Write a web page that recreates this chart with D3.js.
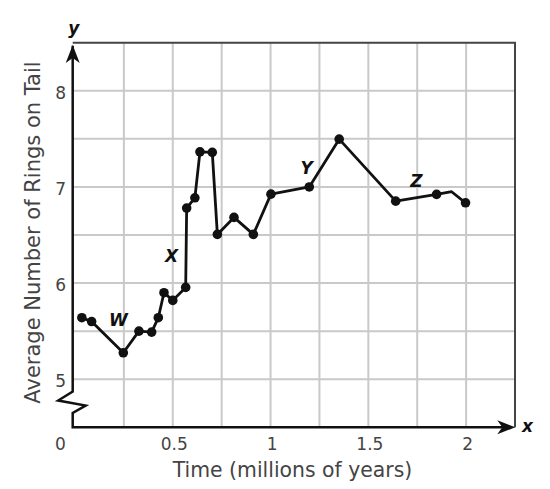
<!DOCTYPE html>
<html>
<head>
<meta charset="utf-8">
<script src="https://cdn.jsdelivr.net/npm/d3@7"></script>
<style>
  body { margin: 0; background: #fff; }
  text { font-family: "DejaVu Sans", Verdana, sans-serif; }
</style>
</head>
<body>
<svg class="chart"></svg>
<script>
// time in millions of years, average number of rings on tail
var timeMyr = [0.035, 0.085, 0.247, 0.327, 0.392, 0.426, 0.455, 0.50, 0.566, 0.571, 0.613, 0.639,
               0.702, 0.728, 0.813, 0.912, 1.002, 1.198, 1.351, 1.64, 1.849, 1.926, 1.997];
var rings = [5.64, 5.60, 5.275, 5.50, 5.49, 5.64, 5.90, 5.82, 5.955, 6.78, 6.887, 7.365,
             7.36, 6.506, 6.683, 6.506, 6.925, 7.0, 7.497, 6.852, 6.922, 6.95, 6.835];
// 1 = the point has a dot, 0 = bend in the line only
var hasDot = [1, 1, 1, 1, 1, 1, 1, 1, 1, 1, 1, 1, 1, 1, 1, 1, 1, 1, 1, 1, 1, 0, 1];

var xTicks = [0, 0.5, 1, 1.5, 2];
var yTicks = [5, 6, 7, 8];

var markNames = ["W", "X", "Y", "Z"];
var markTime = [0.222, 0.494, 1.184, 1.746];
var markRings = [5.553, 6.218, 7.133, 7.001];

function show() {
    'use strict';

    var width = 550, height = 489;

    var svg = d3.select(".chart")
        .attr("width", width)
        .attr("height", height);

    var x = d3.scaleLinear().domain([0, 2.25]).range([75, 515]);
    var y = d3.scaleLinear().domain([4.5, 8.5]).range([427.3, 42.7]);

    var axisX = x(0) - 2.3;
    var ink = "#111";

    // grid
    var grid = svg.append("g").attr("stroke", "#c9c9c9").attr("stroke-width", 2);
    grid.selectAll("line.v").data(d3.range(0.25, 2.01, 0.25)).enter().append("line")
        .attr("class", "v")
        .attr("x1", function(d) { return x(d); })
        .attr("x2", function(d) { return x(d); })
        .attr("y1", y(4.5)).attr("y2", y(8.5));
    grid.selectAll("line.h").data(d3.range(5, 8.01, 0.5)).enter().append("line")
        .attr("class", "h")
        .attr("y1", function(d) { return y(d); })
        .attr("y2", function(d) { return y(d); })
        .attr("x1", axisX).attr("x2", x(2.25));

    // top and right border
    svg.append("path")
        .attr("d", "M" + axisX + "," + y(8.5) + "H" + x(2.25) + "V" + y(4.5))
        .attr("fill", "none")
        .attr("stroke", "#444")
        .attr("stroke-width", 2);

    // tick labels
    var fmt = function(d) { return String(d); };
    var xAxis = svg.append("g")
        .attr("transform", "translate(0," + y(4.5) + ")")
        .call(d3.axisBottom(x).tickValues(xTicks).tickSize(0).tickPadding(11).tickFormat(fmt));
    xAxis.select(".domain").remove();
    xAxis.selectAll("text")
        .attr("font-size", 17)
        .attr("fill", "#444")
        .attr("font-family", "DejaVu Sans, Verdana, sans-serif")
        .attr("x", function(d) { return d === 0 ? -15 : 1; });

    var yAxis = svg.append("g")
        .attr("transform", "translate(" + x(0) + ",0)")
        .call(d3.axisLeft(y).tickValues(yTicks).tickSize(0).tickPadding(9).tickFormat(fmt));
    yAxis.select(".domain").remove();
    yAxis.selectAll("text")
        .attr("font-size", 17)
        .attr("fill", "#444")
        .attr("font-family", "DejaVu Sans, Verdana, sans-serif")
        .attr("dy", "0.45em");

    // axes with break mark on y
    var yb = 391.5;
    svg.append("path")
        .attr("d", "M" + axisX + "," + (y(8.5) + 3) + "V" + yb +
                   "L" + (axisX - 14.5) + "," + (yb + 9) +
                   "L" + (axisX + 13) + "," + (yb + 14) +
                   "L" + axisX + "," + (yb + 21.5) +
                   "V" + y(4.5) + "H" + (x(2.25) - 8))
        .attr("fill", "none")
        .attr("stroke", ink)
        .attr("stroke-width", 2.5)
        .attr("stroke-linejoin", "miter");

    // arrow heads
    var ty = 45;
    svg.append("path")
        .attr("d", "M" + axisX + "," + ty + "L" + (axisX + 7) + "," + (ty + 18) +
                   "L" + axisX + "," + (ty + 13) + "L" + (axisX - 7) + "," + (ty + 18) + "Z")
        .attr("fill", ink);
    var tx = x(2.25) + 0.3, by = y(4.5);
    svg.append("path")
        .attr("d", "M" + tx + "," + by + "L" + (tx - 18) + "," + (by - 7) +
                   "L" + (tx - 13) + "," + by + "L" + (tx - 18) + "," + (by + 7) + "Z")
        .attr("fill", ink);

    // axis letters
    svg.append("text")
        .attr("x", axisX + 1).attr("y", 33.5)
        .attr("text-anchor", "middle")
        .attr("font-size", 17).attr("font-weight", "bold").attr("font-style", "italic")
        .attr("fill", ink)
        .text("y");
    svg.append("text")
        .attr("x", 527.5).attr("y", 432)
        .attr("text-anchor", "middle")
        .attr("font-size", 17).attr("font-weight", "bold").attr("font-style", "italic")
        .attr("fill", ink)
        .text("x");

    // titles
    svg.append("text")
        .attr("x", 292.5).attr("y", 477)
        .attr("text-anchor", "middle")
        .attr("font-size", 20.4)
        .attr("fill", "#444")
        .text("Time (millions of years)");
    svg.append("text")
        .attr("transform", "translate(40,232.5) rotate(-90)")
        .attr("text-anchor", "middle")
        .attr("font-size", 21)
        .attr("fill", "#444")
        .text("Average Number of Rings on Tail");

    // data line and dots
    var pts = timeMyr.map(function(t, i) { return { t: t, r: rings[i], dot: hasDot[i] }; });

    var line = d3.line()
        .x(function(d) { return x(d.t); })
        .y(function(d) { return y(d.r); });

    svg.append("path")
        .datum(pts)
        .attr("d", line)
        .attr("fill", "none")
        .attr("stroke", ink)
        .attr("stroke-width", 2.8)
        .attr("stroke-linejoin", "round");

    svg.selectAll("circle").data(pts.filter(function(d) { return d.dot; }))
        .enter().append("circle")
        .attr("cx", function(d) { return x(d.t); })
        .attr("cy", function(d) { return y(d.r); })
        .attr("r", 4.8)
        .attr("fill", ink);

    // segment labels
    svg.selectAll("text.mark").data(markNames).enter().append("text")
        .attr("class", "mark")
        .attr("x", function(d, i) { return x(markTime[i]); })
        .attr("y", function(d, i) { return y(markRings[i]); })
        .attr("text-anchor", "middle")
        .attr("font-size", 17).attr("font-weight", "bold").attr("font-style", "italic")
        .attr("fill", ink)
        .text(function(d) { return d; });
}

show();
</script>
</body>
</html>
